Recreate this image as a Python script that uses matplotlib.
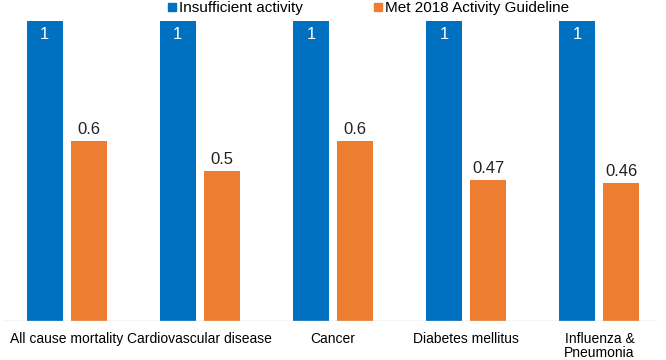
import matplotlib
matplotlib.use("Agg")
import matplotlib.pyplot as plt
from matplotlib.lines import Line2D
import numpy as np

plt.rcParams['font.family'] = ['Liberation Sans', 'DejaVu Sans']

categories = ["All cause mortality", "Cardiovascular disease", "Cancer",
              "Diabetes mellitus", "Influenza &\nPneumonia"]
insufficient = [1, 1, 1, 1, 1]
met_guideline = [0.6, 0.5, 0.6, 0.47, 0.46]
series_names = ["Insufficient activity", "Met 2018 Activity Guideline"]

blue = "#0070C0"
orange = "#ED7D31"

fig = plt.figure(figsize=(6.66, 3.6), dpi=100)
ax = fig.add_axes([0, 39 / 360, 1, 300 / 360])

x = np.arange(len(categories))
w = 0.27
off = 0.165

b1 = ax.bar(x - off, insufficient, w, color=blue)
b2 = ax.bar(x + off, met_guideline, w, color=orange)

for rect, v in zip(b1, insufficient):
    ax.annotate(f"{v:g}", (rect.get_x() + rect.get_width() / 2, rect.get_height()),
                xytext=(0, -4), textcoords="offset points",
                ha="center", va="top", color="white", fontsize=12)
for rect, v in zip(b2, met_guideline):
    ax.annotate(f"{v:g}", (rect.get_x() + rect.get_width() / 2, rect.get_height()),
                xytext=(0, 3), textcoords="offset points",
                ha="center", va="bottom", color="#222222", fontsize=12)

ax.set_xlim(-0.5, 4.5)
ax.set_ylim(0, 1)
for s in ax.spines.values():
    s.set_visible(False)
ax.axhline(0, xmin=3 / 666, xmax=656 / 666, color="#d0d0d0", lw=1)
ax.set_yticks([])
ax.set_xticks(x)
ax.set_xticklabels(categories, fontsize=10, linespacing=1.0)
ax.tick_params(axis="x", length=0, pad=8)

handles = [Line2D([], [], marker="s", ls="", color=blue, markersize=6),
           Line2D([], [], marker="s", ls="", color=orange, markersize=6)]
fig.legend(handles, series_names, loc="upper center", bbox_to_anchor=(0.553, 1.035),
           ncol=2, frameon=False, fontsize=11, handlelength=0.6, handletextpad=0.15,
           columnspacing=4.6)

fig.savefig("out.png", dpi=100)
